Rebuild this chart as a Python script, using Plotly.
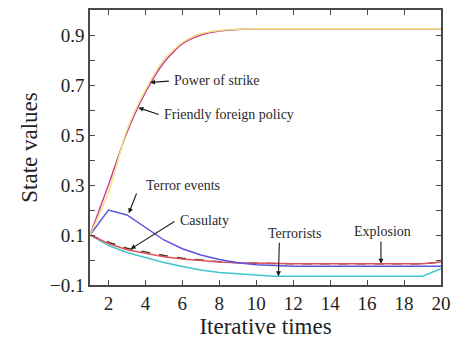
import numpy as np
import plotly.graph_objects as go

iterations = list(range(1, 21))
power_of_strike = [0.10, 0.27, 0.52, 0.68, 0.80, 0.87, 0.905, 0.918, 0.923, 0.925,
                   0.925, 0.925, 0.925, 0.925, 0.925, 0.925, 0.925, 0.925, 0.925, 0.925]
friendly_policy = [0.10, 0.30, 0.51, 0.67, 0.79, 0.865, 0.90, 0.916, 0.922, 0.925,
                   0.925, 0.925, 0.925, 0.925, 0.925, 0.925, 0.925, 0.925, 0.925, 0.925]
terror_events = [0.10, 0.20, 0.18, 0.13, 0.08, 0.045, 0.02, 0.002, -0.011, -0.019,
                 -0.023, -0.025, -0.025, -0.025, -0.025, -0.025, -0.025, -0.025, -0.025, -0.025]
explosion = [0.10, 0.066, 0.041, 0.026, 0.013, 0.004, -0.003, -0.008, -0.011, -0.013,
             -0.014, -0.015, -0.015, -0.015, -0.015, -0.015, -0.015, -0.015, -0.015, -0.008]
casulaty = [0.10, 0.071, 0.047, 0.031, 0.018, 0.007, -0.001, -0.007, -0.011, -0.013,
            -0.014, -0.015, -0.015, -0.015, -0.015, -0.015, -0.015, -0.015, -0.015, -0.008]
terrorists = [0.10, 0.058, 0.030, 0.010, -0.010, -0.026, -0.040, -0.050, -0.055, -0.062,
              -0.065, -0.065, -0.065, -0.065, -0.065, -0.065, -0.065, -0.065, -0.065, -0.035]

x_ticks = [2, 4, 6, 8, 10, 12, 14, 16, 18, 20]
y_ticks = [-0.1, 0.1, 0.3, 0.5, 0.7, 0.9]
y_ticktext = ["\u22120.1", "0.1", "0.3", "0.5", "0.7", "0.9"]
y_minor = [0.0, 0.2, 0.4, 0.6, 0.8]

FONT = "Liberation Serif"

fig = go.Figure()
series = [
    ("Terrorists", terrorists, "#3fc6cc", None, "linear"),
    ("Casulaty", casulaty, "#3a3a1e", "dash", "linear"),
    ("Explosion", explosion, "#e0505a", None, "linear"),
    ("Terror events", terror_events, "#5a55dd", None, "linear"),
    ("Friendly foreign policy", friendly_policy, "#c8379a", None, "spline"),
    ("Power of strike", power_of_strike, "#ece37a", None, "spline"),
]
for name, vals, col, dash, shape in series:
    fig.add_trace(go.Scatter(x=iterations, y=vals, mode="lines", name=name,
                             line=dict(color=col, width=1.4, dash=dash, shape=shape,
                                       smoothing=0.7 if shape == "spline" else None)))

def on_curve(vals, x):
    return float(np.interp(x, iterations, vals))

labels = [
    # text, text x, text y, anchor, tip x, series, tail x, tail y
    ("Power of strike", 5.45, 0.718, "left", 4.25, power_of_strike, 5.35, 0.716),
    ("Friendly foreign policy", 4.9, 0.583, "left", 3.62, friendly_policy, 4.8, 0.58),
    ("Terror events", 6.05, 0.300, "center", 3.1, terror_events, 3.55, 0.272),
    ("Casulaty", 5.75, 0.158, "left", 3.2, casulaty, 5.65, 0.158),
    ("Terrorists", 12.05, 0.108, "center", 11.2, terrorists, 11.25, 0.075),
    ("Explosion", 16.85, 0.115, "center", 16.75, explosion, 16.75, 0.080),
]
for text, tx, ty, anc, tipx, vals, axx, ayy in labels:
    fig.add_annotation(x=tx, y=ty, text=text, showarrow=False, xanchor=anc,
                       yanchor="middle", font=dict(family=FONT, size=14, color="#2a2a2a"))
    fig.add_annotation(x=tipx, y=on_curve(vals, tipx) + (0.012 if text == "Terror events" else 0.0),
                       ax=axx, ay=ayy, axref="x", ayref="y", text="", showarrow=True,
                       arrowhead=2, arrowsize=0.9, arrowwidth=1.1, arrowcolor="#1a1a1a")

axis_common = dict(showline=True, linecolor="#4a4a4a", linewidth=1.6, mirror="allticks",
                   ticks="inside", tickcolor="#4a4a4a", ticklen=5, tickwidth=1,
                   showgrid=False, zeroline=False,
                   tickfont=dict(family=FONT, size=19, color="#222"))

fig.update_xaxes(range=[1, 20], tickvals=x_ticks,
                 title=dict(text="Iterative times", font=dict(family=FONT, size=23, color="#222"), standoff=4),
                 **axis_common)
fig.update_yaxes(range=[-0.1, 1.0], tickvals=y_ticks, ticktext=y_ticktext,
                 minor=dict(tickvals=y_minor, ticks="inside", ticklen=5, tickcolor="#4a4a4a"),
                 title=dict(text="State values", font=dict(family=FONT, size=23, color="#222"), standoff=6),
                 **axis_common)

fig.update_layout(width=468, height=345, margin=dict(l=90, r=27, t=8, b=60),
                  paper_bgcolor="white", plot_bgcolor="white", showlegend=False)

fig.write_html("out.html")
